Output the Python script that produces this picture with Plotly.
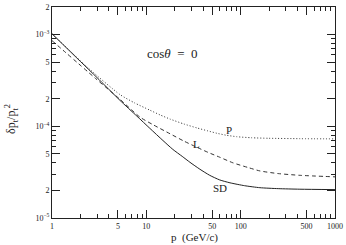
import plotly.graph_objects as go

# Data (p in GeV/c, resolution delta p_t / p_t^2)
p_sd = [1, 2, 3, 5.25, 7.95, 10.9, 15, 19.1, 24, 29, 37, 47, 60, 77, 110, 160, 250, 424, 1000]
v_sd = [1.02e-3, 5.1e-4, 3.4e-4, 1.92e-4, 1.29e-4, 9.5e-5, 7.0e-5, 5.6e-5, 4.7e-5, 4.05e-5, 3.4e-5,
        2.92e-5, 2.6e-5, 2.42e-5, 2.25e-5, 2.14e-5, 2.09e-5, 2.06e-5, 2.04e-5]

p_p = [1, 2.35, 5.25, 7.5, 10.9, 14, 17.8, 25, 34.4, 45, 55.9, 70, 91, 130, 200, 424, 1000]
v_p = [1.03e-3, 4.44e-4, 2.22e-4, 1.8e-4, 1.5e-4, 1.33e-4, 1.2e-4, 1.06e-4, 9.6e-5, 8.9e-5, 8.4e-5,
       8.0e-5, 7.7e-5, 7.5e-5, 7.4e-5, 7.33e-5, 7.3e-5]

p_l = [1, 2.92, 5.25, 8.55, 12, 17.8, 25, 34.4, 45, 60, 82.6, 120, 160, 250, 424, 1000]
v_l = [8.6e-4, 3.3e-4, 1.97e-4, 1.26e-4, 1.03e-4, 8.3e-5, 6.9e-5, 5.9e-5, 5.2e-5, 4.6e-5, 4.0e-5,
       3.55e-5, 3.26e-5, 3.05e-5, 2.92e-5, 2.81e-5]

x_major = [1, 5, 10, 50, 100, 500, 1000]
x_major_text = ["1", "5", "10", "50", "100", "500", "1000"]
x_minor = [2, 3, 4, 6, 7, 8, 9, 20, 30, 40, 60, 70, 80, 90, 200, 300, 400, 600, 700, 800, 900]

y_major = [1e-5, 2e-5, 5e-5, 1e-4, 2e-4, 5e-4, 1e-3, 2e-3]
y_major_text = ["10<sup>−5</sup>", "2", "5", "10<sup>−4</sup>", "2", "5", "10<sup>−3</sup>", "2"]
y_minor = [3e-5, 4e-5, 6e-5, 7e-5, 8e-5, 9e-5, 3e-4, 4e-4, 6e-4, 7e-4, 8e-4, 9e-4]

FONT = "Liberation Serif"

fig = go.Figure()
fig.add_trace(go.Scatter(x=p_p, y=v_p, mode="lines", line=dict(color="#333", width=1, dash="1px,2px", shape="spline", smoothing=0.6)))
fig.add_trace(go.Scatter(x=p_l, y=v_l, mode="lines", line=dict(color="#333", width=1, dash="4px,3px", shape="spline", smoothing=0.6)))
fig.add_trace(go.Scatter(x=p_sd, y=v_sd, mode="lines", line=dict(color="#222", width=1, shape="spline", smoothing=0.6)))

axis_common = dict(showgrid=False, zeroline=False, showline=True, linecolor="#222", linewidth=1,
                   mirror="allticks", ticks="inside", tickcolor="#222", tickwidth=1,
                   ticklabeloverflow="allow",
                   tickfont=dict(family=FONT, size=8, color="#222"))

fig.update_xaxes(type="log", range=[0, 3], tickmode="array", tickvals=x_major, ticktext=x_major_text,
                 ticklen=8, minor=dict(tickvals=x_minor, ticklen=4, ticks="inside", tickcolor="#222", showgrid=False),
                 **axis_common)
fig.update_yaxes(type="log", range=[-5.0001, -2.6988], tickmode="array", tickvals=y_major, ticktext=y_major_text,
                 ticklen=8, minor=dict(tickvals=y_minor, ticklen=4, ticks="inside", tickcolor="#222", showgrid=False),
                 **axis_common)

annots = [
    dict(x=1.282, y=-3.203, xref="x", yref="y", text="cos<i>θ</i>  =  0", font=dict(family=FONT, size=13, color="#222")),
    dict(x=1.875, y=-4.037, xref="x", yref="y", text="P", font=dict(family=FONT, size=11, color="#222")),
    dict(x=1.536, y=-4.198, xref="x", yref="y", text="L", font=dict(family=FONT, size=11, color="#222")),
    dict(x=1.780, y=-4.668, xref="x", yref="y", text="SD", font=dict(family=FONT, size=11, color="#222")),
    dict(x=0.505, y=-0.093, xref="paper", yref="paper", text="p  (GeV/c)", font=dict(family=FONT, size=11, color="#222")),
    dict(x=-0.141, y=0.47, xref="paper", yref="paper", text="δp<sub>t</sub>/p<sub>t</sub><sup>2</sup>", textangle=-90,
         font=dict(family=FONT, size=12, color="#222")),
]
for a in annots:
    a.update(showarrow=False, xanchor="center", yanchor="middle")
    fig.add_annotation(**a)

fig.update_layout(width=346, height=245, margin=dict(l=52, r=11, t=3, b=27),
                  paper_bgcolor="white", plot_bgcolor="white", showlegend=False)

fig.write_html("out.html", config={"displayModeBar": False},
               post_script="document.body.style.margin='0';")
